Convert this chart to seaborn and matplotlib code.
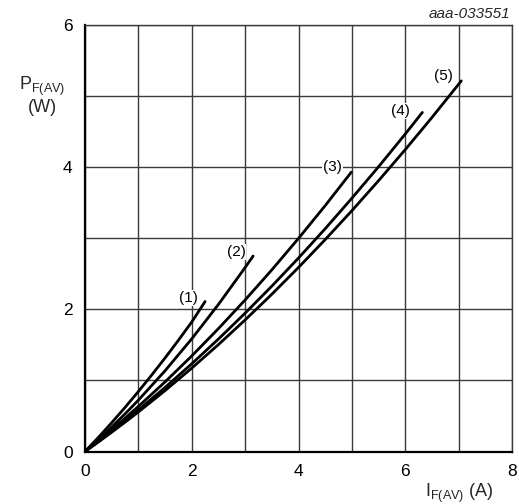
import numpy as np
import pandas as pd
import matplotlib
matplotlib.use("Agg")
import matplotlib.pyplot as plt
import seaborn as sns
from matplotlib.ticker import MultipleLocator

# ── data ──────────────────────────────────────────────────────────────────────
i1 = [0, 0.25, 0.5, 0.75, 1.0, 1.25, 1.5, 1.75, 2.0, 2.25]
p1 = [0, 0.198, 0.405, 0.620, 0.844, 1.076, 1.316, 1.565, 1.822, 2.11]

i2 = [0, 0.25, 0.5, 0.75, 1.0, 1.5, 2.0, 2.5, 3.0, 3.15]
p2 = [0, 0.167, 0.344, 0.529, 0.722, 1.136, 1.585, 2.069, 2.588, 2.75]

i3 = [0, 0.25, 0.5, 0.75, 1.0, 1.5, 2.0, 2.5, 3.0, 3.5, 4.0, 4.5, 4.99]
p3 = [0, 0.151, 0.307, 0.468, 0.634, 0.979, 1.344, 1.729, 2.132, 2.555, 2.998, 3.459, 3.93]

i4 = [0, 0.25, 0.5, 0.75, 1.0, 1.5, 2.0, 2.5, 3.0, 3.5, 4.0, 4.5, 5.0, 5.5, 6.0, 6.32]
p4 = [0, 0.140, 0.284, 0.433, 0.585, 0.901, 1.234, 1.582, 1.946, 2.326, 2.722,
      3.134, 3.563, 4.006, 4.466, 4.77]

i5 = [0, 0.25, 0.5, 0.75, 1.0, 1.5, 2.0, 2.5, 3.0, 3.5, 4.0, 4.5, 5.0, 5.5, 6.0,
      6.5, 7.0, 7.05]
p5 = [0, 0.133, 0.271, 0.412, 0.556, 0.857, 1.173, 1.504, 1.851, 2.212, 2.589,
      2.981, 3.388, 3.810, 4.247, 4.699, 5.167, 5.214]

curve_names = ["(1)", "(2)", "(3)", "(4)", "(5)"]
label_x = [1.94, 2.83, 4.64, 5.91, 6.71]
label_y = [2.16, 2.81, 4.00, 4.79, 5.28]

x_ticks = [0, 2, 4, 6, 8]
y_ticks = [0, 2, 4, 6]

df = pd.concat([
    pd.DataFrame({"I": i, "P": p, "curve": name})
    for i, p, name in zip([i1, i2, i3, i4, i5], [p1, p2, p3, p4, p5], curve_names)
])

# ── style ──────────────────────────────────────────────────────────────────────
sns.set_theme(style="white")
plt.rcParams["font.family"] = ["Liberation Sans", "DejaVu Sans"]
plt.rcParams["mathtext.default"] = "regular"

fig = plt.figure(figsize=(5.19, 5.04), dpi=100)
ax = fig.add_axes([85 / 519, 1 - 451.5 / 504, 427 / 519, 426.5 / 504])

sns.lineplot(data=df, x="I", y="P", hue="curve", palette=["black"] * 5,
             legend=False, linewidth=2.0, errorbar=None, sort=False, ax=ax)

ax.set_xlim(0, 8)
ax.set_ylim(0, 6)
ax.set_xticks(x_ticks)
ax.set_yticks(y_ticks)
ax.xaxis.set_minor_locator(MultipleLocator(1))
ax.yaxis.set_minor_locator(MultipleLocator(1))
ax.grid(which="both", color="#3a3a3a", linewidth=1.0)
ax.set_axisbelow(True)
ax.tick_params(which="both", length=0, labelsize=12.5, colors="black")
ax.tick_params(axis="x", pad=9)
ax.tick_params(axis="y", pad=9)
ax.set_xlabel("")
ax.set_ylabel("")

for side in ["top", "right"]:
    ax.spines[side].set_color("#3a3a3a")
    ax.spines[side].set_linewidth(1.0)
for side in ["left", "bottom"]:
    ax.spines[side].set_color("black")
    ax.spines[side].set_linewidth(1.6)

for name, lx, ly in zip(curve_names, label_x, label_y):
    ax.text(lx, ly, name, fontsize=11, ha="center", va="center", color="black",
            bbox=dict(facecolor="white", edgecolor="none", pad=0.6))

# axis titles
fig.text(42 / 519, 1 - 86 / 504, "P$_{F(AV)}$", fontsize=13, ha="center", va="center")
fig.text(42 / 519, 1 - 108 / 504, "(W)", fontsize=13, ha="center", va="center")
fig.text(459 / 519, 1 - 493 / 504, "I$_{F(AV)}$ (A)", fontsize=13, ha="center", va="center")
fig.text(510 / 519, 1 - 14 / 504, "aaa-033551", fontsize=11, style="italic",
         ha="right", va="center")

fig.savefig("out.png", dpi=100)
